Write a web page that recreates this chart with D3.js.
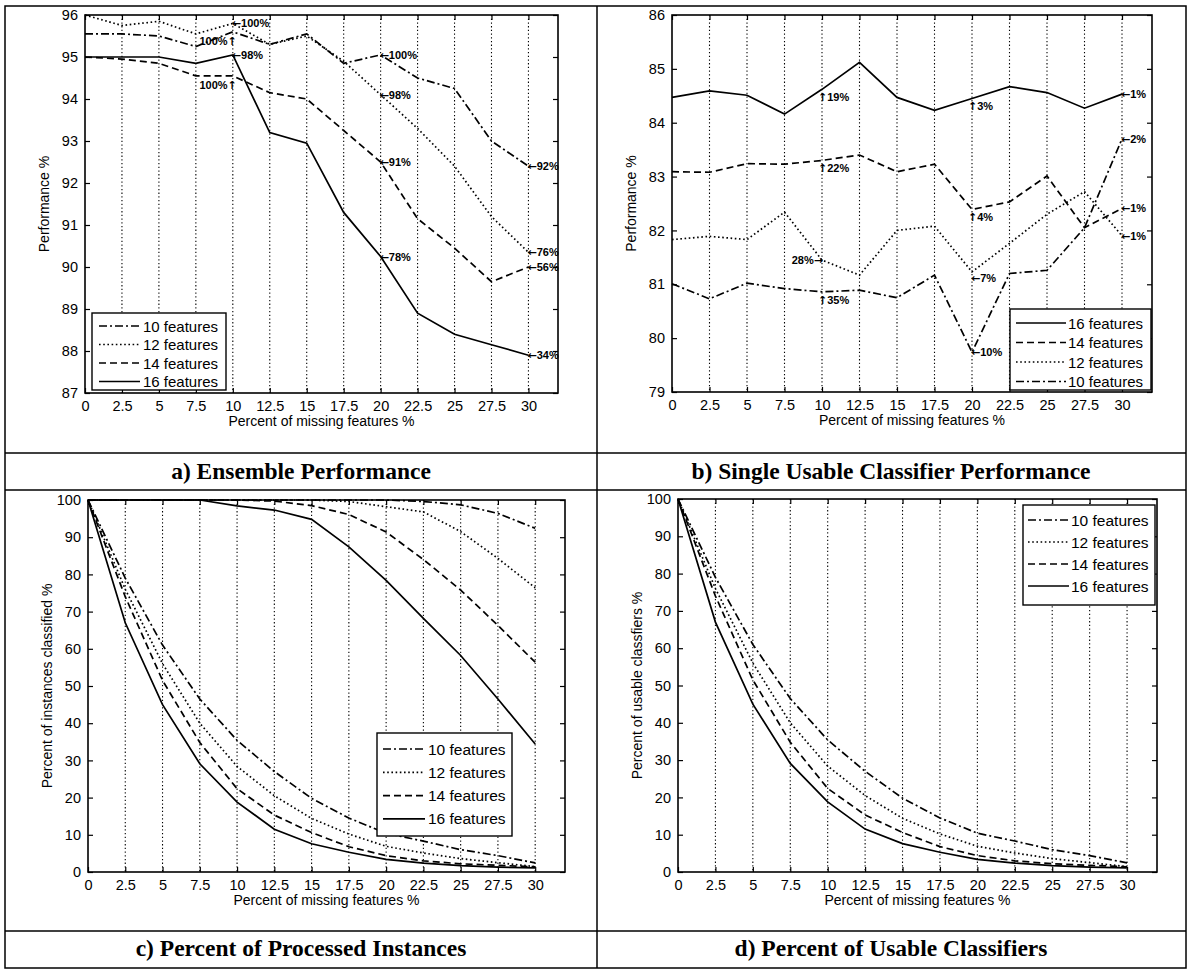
<!DOCTYPE html>
<html><head><meta charset="utf-8">
<script src="https://cdn.jsdelivr.net/npm/d3@7"></script>
<style>
body{margin:0;background:#fff}
svg text{font-family:"Liberation Sans",Arial,Helvetica,sans-serif;fill:#000}
</style></head><body>
<svg id="fig" width="1190" height="970"></svg>
<script>
// Percent of missing features (x axis of every panel)
const missingPct = [0, 2.5, 5, 7.5, 10, 12.5, 15, 17.5, 20, 22.5, 25, 27.5, 30];
const xTickLabels = ["0","2.5","5","7.5","10","12.5","15","17.5","20","22.5","25","27.5","30"];
const featureSets = [10, 12, 14, 16];

// a) Ensemble performance
const ensPerf10 = [95.55, 95.55, 95.5, 95.25, 95.6, 95.3, 95.55, 94.85, 95.05, 94.5, 94.25, 93.0, 92.4];
const ensPerf12 = [96.0, 95.75, 95.85, 95.55, 95.8, 95.3, 95.5, 94.9, 94.1, 93.3, 92.4, 91.2, 90.35];
const ensPerf14 = [95.0, 94.95, 94.85, 94.55, 94.55, 94.15, 94.0, 93.25, 92.5, 91.15, 90.45, 89.65, 90.0];
const ensPerf16 = [95.0, 95.0, 95.0, 94.85, 95.05, 93.2, 92.95, 91.3, 90.25, 88.9, 88.4, 88.15, 87.9];
const ensTicks = [87, 88, 89, 90, 91, 92, 93, 94, 95, 96];

// b) Single usable classifier performance
const singPerf10 = [81.01, 80.73, 81.02, 80.92, 80.86, 80.89, 80.75, 81.17, 79.74, 81.2, 81.26, 82.05, 83.7];
const singPerf12 = [81.83, 81.89, 81.83, 82.34, 81.45, 81.17, 82.0, 82.08, 81.23, 81.76, 82.3, 82.72, 81.9];
const singPerf14 = [83.09, 83.08, 83.24, 83.23, 83.3, 83.4, 83.09, 83.23, 82.39, 82.53, 83.01, 82.05, 82.41];
const singPerf16 = [84.47, 84.59, 84.51, 84.16, 84.62, 85.12, 84.47, 84.23, 84.45, 84.67, 84.56, 84.27, 84.53];
const singTicks = [79, 80, 81, 82, 83, 84, 85, 86];

// c) Percent of processed instances
const proc10 = [100, 100, 100, 100, 100, 100, 100, 100, 100, 99.6, 98.7, 96.4, 92.4];
const proc12 = [100, 100, 100, 100, 100, 100, 100, 99.6, 98.2, 96.8, 91.5, 84.3, 76.4];
const proc14 = [100, 100, 100, 100, 100, 99.7, 98.5, 96.1, 91.4, 84.0, 75.8, 66.3, 56.4];
const proc16 = [100, 100, 100, 100, 98.4, 97.3, 94.8, 87.4, 78.4, 68.2, 58.2, 46.5, 34.4];

// d) Percent of usable classifiers
const usable10 = [100, 79, 61, 46.5, 35.4, 27, 19.8, 14.5, 10.4, 8.3, 6.0, 4.4, 2.45];
const usable12 = [100, 76, 56, 40, 28.4, 20.5, 14.4, 10.2, 6.9, 5.1, 3.6, 2.5, 1.45];
const usable14 = [100, 74, 51.5, 34.8, 22.4, 15.3, 10.6, 6.8, 4.4, 3.0, 2.2, 1.8, 1.4];
const usable16 = [100, 67, 45, 29.1, 18.8, 11.5, 7.6, 5.3, 3.4, 2.4, 1.7, 1.3, 1.1];
const pctTicks = [0, 10, 20, 30, 40, 50, 60, 70, 80, 90, 100];

// line style per feature-set size (MATLAB-like: -. : -- -)
const dashFor = {10: "8,3,2,3", 12: "1.6,2.6", 14: "7,4", 16: null};

const svg = d3.select("#fig");
svg.append("rect").attr("width", 1190).attr("height", 970).attr("fill", "#fff");

function seriesOf(arr) { return missingPct.map((m, i) => ({m, v: arr[i]})); }

function arrowSpan(t, ch) {
  t.append("tspan").attr("font-family", "DejaVu Sans").style("font-family", "DejaVu Sans")
    .attr("font-weight", "bold").text(ch);
}

function drawPanel(cfg) {
  const g = svg.append("g");
  const x = d3.scaleLinear().domain([0, 32]).range([cfg.x0, cfg.x1]);
  const y = d3.scaleLinear().domain(cfg.ydom).range([cfg.y1, cfg.y0]);

  // vertical dotted grid
  g.append("g").selectAll("line").data(missingPct.slice(1)).join("line")
    .attr("x1", d => x(d)).attr("x2", d => x(d))
    .attr("y1", cfg.y0).attr("y2", cfg.y1)
    .attr("stroke", "#000").attr("stroke-width", 1.1)
    .attr("stroke-dasharray", "1.3,2.4");

  const axStyle = sel => {
    sel.select(".domain").remove();
    sel.selectAll(".tick line").attr("stroke", "#000").attr("stroke-width", 1.2);
    sel.selectAll(".tick text").attr("font-size", 14.5).attr("font-family", "Liberation Sans, Arial, sans-serif");
  };
  g.append("g").attr("transform", `translate(0,${cfg.y1})`)
    .call(d3.axisBottom(x).tickValues(missingPct).tickFormat((d, i) => xTickLabels[i])
      .tickSizeInner(-5).tickSizeOuter(0).tickPadding(8)).call(axStyle);
  g.append("g").attr("transform", `translate(0,${cfg.y0})`)
    .call(d3.axisTop(x).tickValues(missingPct).tickFormat("")
      .tickSizeInner(-5).tickSizeOuter(0)).call(axStyle);
  g.append("g").attr("transform", `translate(${cfg.x0},0)`)
    .call(d3.axisLeft(y).tickValues(cfg.yticks).tickFormat(d3.format("d"))
      .tickSizeInner(-5).tickSizeOuter(0).tickPadding(7))
    .call(axStyle);
  g.append("g").attr("transform", `translate(${cfg.x1},0)`)
    .call(d3.axisRight(y).tickValues(cfg.yticks).tickFormat("").tickSizeInner(-5).tickSizeOuter(0))
    .call(axStyle);

  // series
  const line = d3.line().x(d => x(d.m)).y(d => y(d.v));
  cfg.series.forEach(s => {
    g.append("path").datum(seriesOf(s.values))
      .attr("d", line).attr("fill", "none").attr("stroke", "#000")
      .attr("stroke-width", 1.7)
      .attr("stroke-dasharray", dashFor[s.n]);
  });

  // plot frame
  g.append("rect").attr("x", cfg.x0).attr("y", cfg.y0)
    .attr("width", cfg.x1 - cfg.x0).attr("height", cfg.y1 - cfg.y0)
    .attr("fill", "none").attr("stroke", "#000").attr("stroke-width", 1.6);

  // axis titles
  g.append("text").attr("x", (cfg.x0 + cfg.x1) / 2).attr("y", cfg.y1 + 33)
    .attr("text-anchor", "middle").attr("font-size", 14).text("Percent of missing features %");
  g.append("text")
    .attr("transform", `translate(${cfg.x0 - 36},${(cfg.y0 + cfg.y1) / 2}) rotate(-90)`)
    .attr("text-anchor", "middle").attr("font-size", 14).text(cfg.ylabel);

  // legend
  const L = cfg.legend;
  g.append("rect").attr("x", L.x).attr("y", L.y).attr("width", L.w).attr("height", L.h)
    .attr("fill", "#fff").attr("stroke", "#000").attr("stroke-width", 1.4);
  L.order.forEach((n, i) => {
    const ry = L.y + L.first + i * L.step;
    g.append("line").attr("x1", L.x + L.l0).attr("x2", L.x + L.l1).attr("y1", ry).attr("y2", ry)
      .attr("stroke", "#000").attr("stroke-width", 1.7).attr("stroke-dasharray", dashFor[n]);
    g.append("text").attr("x", L.x + L.tx).attr("y", ry + 5.5).attr("font-size", L.fs)
      .text(`${n} features`);
  });

  // value notes (arrow + percentage)
  (cfg.notes || []).forEach(nt => {
    const s = cfg.series.find(d => d.n === nt.n);
    const px = x(missingPct[nt.i]), py = y(s.values[nt.i]);
    const label = Math.round(nt.src[nt.i]) + "%";
    const dy = nt.dy || 0;
    const t = g.append("text").attr("font-size", 11).attr("font-weight", "bold");
    if (nt.k === "left") {
      t.attr("x", px - 1).attr("y", py + 4 + dy);
      arrowSpan(t, "\u2190"); t.append("tspan").text(label);
    } else if (nt.k === "up") {
      t.attr("x", px - 4).attr("y", py + 13 + dy);
      arrowSpan(t, "\u2191"); t.append("tspan").text(label);
    } else if (nt.k === "upL") {
      t.attr("x", px + 4).attr("y", py + 13 + dy).attr("text-anchor", "end");
      t.append("tspan").text(label); arrowSpan(t, "\u2191");
    } else if (nt.k === "right") {
      t.attr("x", px + 1).attr("y", py + 4 + dy).attr("text-anchor", "end");
      t.append("tspan").text(label); arrowSpan(t, "\u2192");
    }
  });
}

const ensSeries = [
  {n: 10, values: ensPerf10}, {n: 12, values: ensPerf12},
  {n: 14, values: ensPerf14}, {n: 16, values: ensPerf16}];
const procByN = {10: proc10, 12: proc12, 14: proc14, 16: proc16};
const usableByN = {10: usable10, 12: usable12, 14: usable14, 16: usable16};

const ensNotes = [];
[4, 8, 12].forEach(i => featureSets.forEach(n => {
  let k = "left";
  if (i === 4 && (n === 10 || n === 14)) k = "upL";
  ensNotes.push({i, n, k, src: procByN[n]});
}));

drawPanel({
  x0: 85, x1: 558, y0: 15, y1: 393, ydom: [87, 96], yticks: ensTicks,
  ylabel: "Performance %", series: ensSeries, notes: ensNotes,
  legend: {x: 92, y: 313, w: 134, h: 77, first: 13, step: 18.5, l0: 7, l1: 48, tx: 51, fs: 15, order: [10, 12, 14, 16]}
});

const singSeries = [
  {n: 16, values: singPerf16}, {n: 14, values: singPerf14},
  {n: 12, values: singPerf12}, {n: 10, values: singPerf10}];
const singStyle = {
  4: {16: "up", 14: "up", 12: "right", 10: "up"},
  8: {16: "up", 14: "up", 12: "left", 10: "left"},
  12: {16: "left", 14: "left", 12: "left", 10: "left"}
};
const singNotes = [];
[4, 8, 12].forEach(i => featureSets.forEach(n => {
  const k = singStyle[i][n];
  singNotes.push({i, n, k, src: usableByN[n], dy: (i === 8 && n === 12) ? 6 : (k === "up" ? -1 : 0)});
}));

drawPanel({
  x0: 672, x1: 1152, y0: 15, y1: 392, ydom: [79, 86], yticks: singTicks,
  ylabel: "Performance %", series: singSeries, notes: singNotes,
  legend: {x: 1010, y: 309, w: 141, h: 81, first: 14, step: 19.5, l0: 6, l1: 56, tx: 58, fs: 15, order: [16, 14, 12, 10]}
});

drawPanel({
  x0: 88, x1: 565, y0: 500, y1: 872, ydom: [0, 100], yticks: pctTicks,
  ylabel: "Percent of instances classified %",
  series: [
    {n: 10, values: proc10}, {n: 12, values: proc12}, {n: 14, values: proc14}, {n: 16, values: proc16},
    {n: 10, values: usable10}, {n: 12, values: usable12}, {n: 14, values: usable14}, {n: 16, values: usable16}],
  legend: {x: 377, y: 733, w: 135, h: 103, first: 16, step: 23.3, l0: 6, l1: 48, tx: 51, fs: 15.5, order: [10, 12, 14, 16]}
});

drawPanel({
  x0: 678, x1: 1157, y0: 499, y1: 872, ydom: [0, 100], yticks: pctTicks,
  ylabel: "Percent of usable classfiers %",
  series: [{n: 10, values: usable10}, {n: 12, values: usable12}, {n: 14, values: usable14}, {n: 16, values: usable16}],
  legend: {x: 1023, y: 505, w: 132, h: 100, first: 15, step: 22, l0: 5, l1: 46, tx: 48, fs: 15.5, order: [10, 12, 14, 16]}
});

// table frame and captions
const frame = svg.append("g").attr("stroke", "#000").attr("stroke-width", 1.5).attr("fill", "none");
frame.append("rect").attr("x", 5).attr("y", 6).attr("width", 1181).attr("height", 962);
frame.append("line").attr("x1", 597).attr("x2", 597).attr("y1", 6).attr("y2", 968);
[453, 490, 931].forEach(yy => frame.append("line").attr("x1", 5).attr("x2", 1186).attr("y1", yy).attr("y2", yy));

const captions = [
  {x: 301, y: 479, t: "a) Ensemble Performance"},
  {x: 891, y: 479, t: "b) Single Usable Classifier Performance"},
  {x: 301, y: 956, t: "c) Percent of Processed Instances"},
  {x: 891, y: 956, t: "d) Percent of Usable Classifiers"}];
svg.append("g").selectAll("text").data(captions).join("text")
  .attr("x", d => d.x).attr("y", d => d.y).attr("text-anchor", "middle")
  .style("font-family", "Liberation Serif, 'Times New Roman', serif")
  .attr("font-weight", "bold").attr("font-size", 23.5).text(d => d.t);
</script>
</body></html>
